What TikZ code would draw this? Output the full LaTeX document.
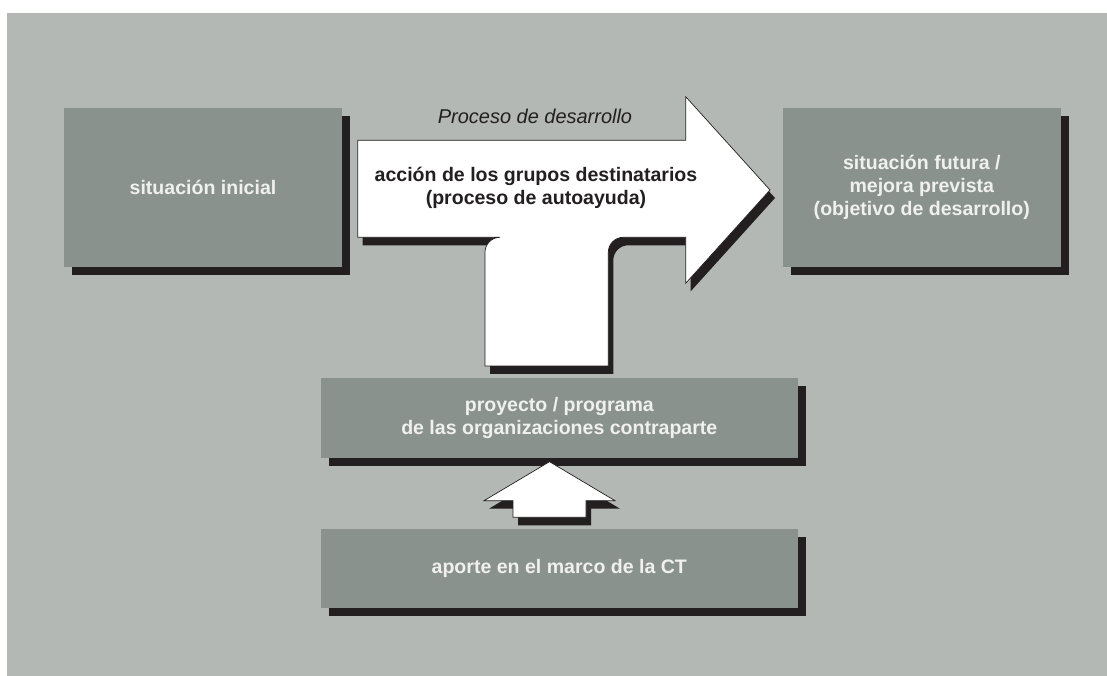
\documentclass[tikz,border=0pt]{standalone}
\usepackage{fontspec}
\setmainfont{Liberation Sans}
\usetikzlibrary{shadows}
\definecolor{bggray}{HTML}{B3B8B4}
\definecolor{boxgray}{HTML}{8A928D}
\definecolor{shadowblack}{HTML}{231F20}
\tikzset{
  x=0.025cm,
  y=0.025cm,
  every node/.style={inner sep=0pt, outer sep=0pt},
  boxnode/.style={fill=boxgray, text=white!94!black, align=center,
    font=\fontsize{13.9}{16.4}\selectfont\bfseries,
    drop shadow={shadow xshift=0.2cm, shadow yshift=-0.2cm, fill=shadowblack, opacity=1}},
  tall box/.style={boxnode, minimum width=6.95cm, minimum height=3.975cm},
  flat box/.style={boxnode, minimum width=11.92cm, minimum height=1.985cm},
  blockarrow/.style={fill=white, draw=shadowblack, line width=0.5pt,
    drop shadow={shadow xshift=0.125cm, shadow yshift=-0.2cm, fill=shadowblack, opacity=1}},
}

\begin{document}
\begin{tikzpicture}
  \useasboundingbox (0,0) rectangle (1107,676);
  \fill[bggray] (7,0) rectangle (1107,663);

  % boxes
  \node[tall box] (start) at (203,488.5) {situación inicial};
  \node[tall box] (future) at (921.8,488.5) {situación futura /\\mejora prevista\\(objetivo de desarrollo)};
  \node[flat box] (project) at (559.3,258) {proyecto / programa\\de las organizaciones contraparte};
  \node[flat box] (input) at (559.3,107.4) {aporte en el marco de la CT};

  % big arrow
  \draw[blockarrow] (357.7,535.7) -- (685.7,535.7) -- (685.7,579.3) -- (770,486)
    -- (685.7,392.7) -- (685.7,438.7) -- (623.3,438.7)
    arc[start angle=90, end angle=180, radius=15] -- (608.3,310) -- (485,310)
    -- (485,423.7) arc[start angle=180, end angle=90, radius=15]
    -- (357.7,438.7) -- cycle;
  \node[font=\fontsize{14.2}{17}\selectfont\itshape, text=shadowblack] (process) at (535,560) {Proceso de desarrollo};
  \node[font=\fontsize{13.9}{16.4}\selectfont\bfseries, text=shadowblack, align=center] (action) at (536,488.5)
    {acción de los grupos destinatarios\\(proceso de autoayuda)};

  % small arrow
  \draw[blockarrow] (513,158.7) -- (513,175.3) -- (484,175.3) -- (549.5,214.3)
    -- (615,175.3) -- (586,175.3) -- (586,158.7) -- cycle;
\end{tikzpicture}
\end{document}
